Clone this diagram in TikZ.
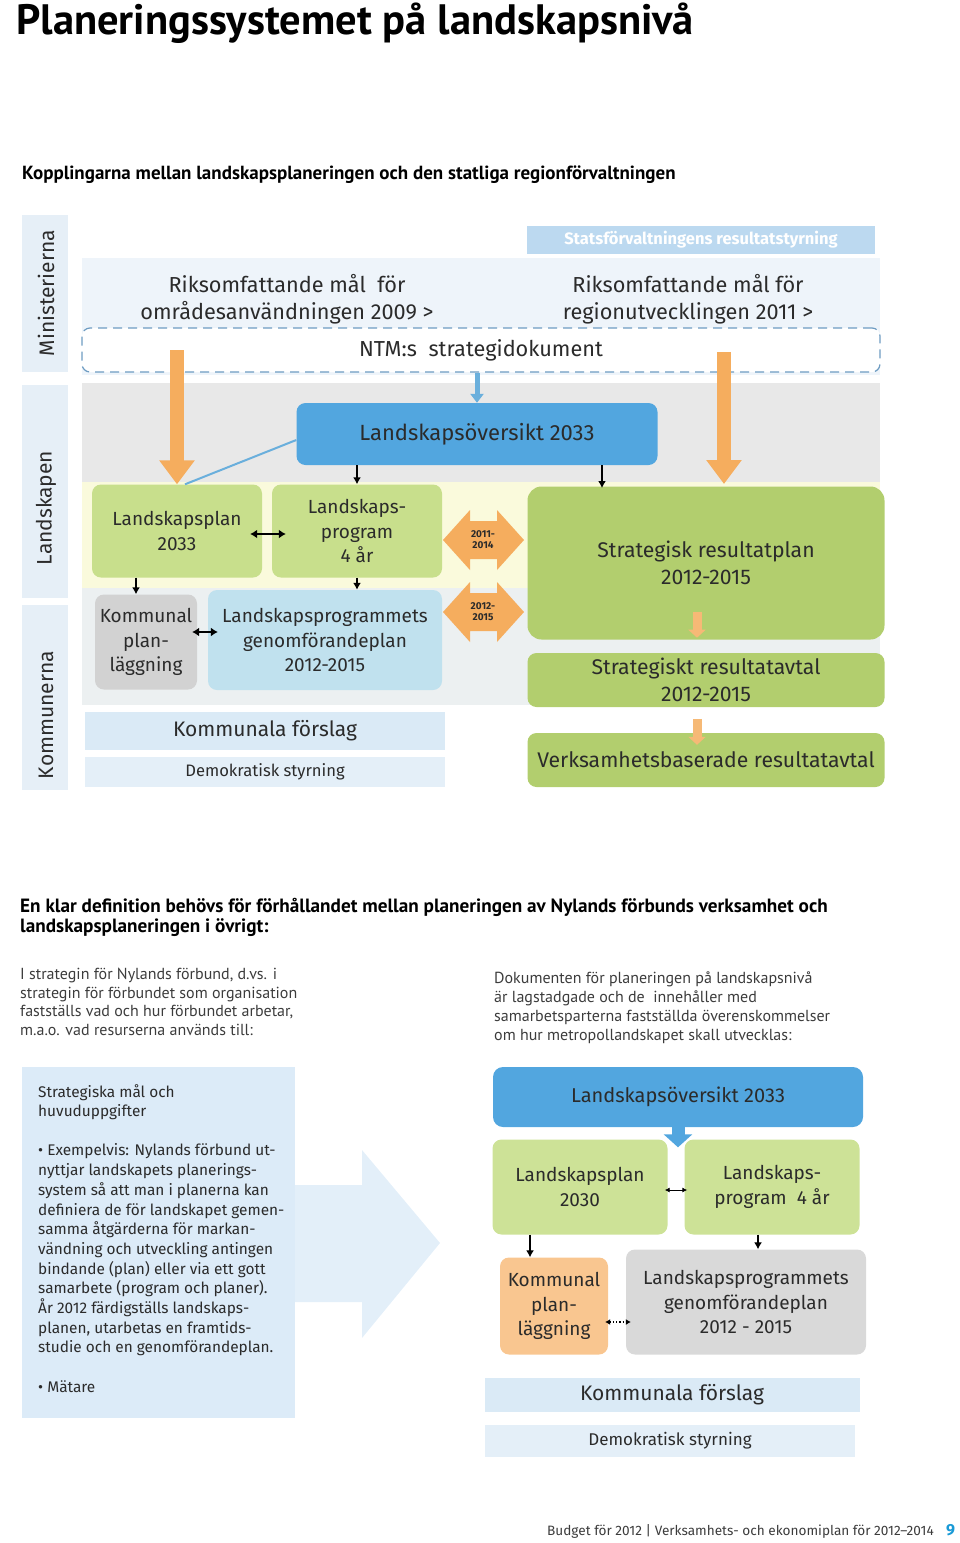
\documentclass[tikz,border=0pt]{standalone}
\usepackage{fontspec}
\setmainfont{Fira Sans}
\newfontfamily\headfont{PT Sans}
\usetikzlibrary{arrows.meta,positioning,calc}

\definecolor{ink}{HTML}{2B2B2B}
\definecolor{inkgrey}{HTML}{3C3C3C}
\definecolor{colband}{HTML}{E6EFF7}
\definecolor{minband}{HTML}{EEF4FA}
\definecolor{statsbar}{HTML}{BCD9F0}
\definecolor{ntmblue}{HTML}{6E9CC2}
\definecolor{greyband}{HTML}{E8E8E8}
\definecolor{yellowband}{HTML}{FAFADC}
\definecolor{lowband}{HTML}{ECF0F1}
\definecolor{kfband}{HTML}{DAEAF6}
\definecolor{dsband}{HTML}{E4EFF8}
\definecolor{lsoblue}{HTML}{52A6DF}
\definecolor{linkblue}{HTML}{6AAFDC}
\definecolor{greenL}{HTML}{C8DF8C}
\definecolor{greenS}{HTML}{B2CE6E}
\definecolor{kommgrey}{HTML}{D2D2D2}
\definecolor{genblue}{HTML}{C0E1EE}
\definecolor{orangeA}{HTML}{F5AD5E}
\definecolor{orangeB}{HTML}{F9C690}
\definecolor{planegrey}{HTML}{D9D9D9}
\definecolor{leftbox}{HTML}{DCEBF8}
\definecolor{bigarrow}{HTML}{E3EFF9}
\definecolor{pageblue}{HTML}{1A9AD6}

\tikzset{
  box/.style={rounded corners=9pt, inner sep=0pt, align=center, text=ink},
  txt/.style={inner sep=0pt, align=center, text=ink},
  blk/.style={line width=1.6pt, -{Latex[length=7pt,width=8pt]}},
  twoway/.style={line width=1.6pt, {Latex[length=7pt,width=9pt]}-{Latex[length=7pt,width=9pt]}},
  fatarrow/.style={line width=14pt, draw=orangeA, -{Triangle[length=24pt,width=34pt]}},
  smallorange/.style={line width=9pt, draw=orangeA!85, -{Triangle[length=8pt,width=17pt]}},
  f21/.style={font=\fontsize{21.7}{27}\selectfont},
  f19/.style={font=\fontsize{19}{24.5}\selectfont},
  f20/.style={font=\fontsize{21.2}{27}\selectfont},
}

\begin{document}
\begin{tikzpicture}[x=1pt,y=-1pt]
\useasboundingbox (0,0) rectangle (960,1543);

% headings
\node[anchor=base west, inner sep=0pt, font=\headfont\bfseries\fontsize{42.5}{44}\selectfont] (title) at (16,34) {Planeringssystemet på landskapsnivå};
\node[anchor=base west, inner sep=0pt, font=\headfont\bfseries\fontsize{19}{22}\selectfont] (sub) at (22,179) {Kopplingarna mellan landskapsplaneringen och den statliga regionförvaltningen};

% bands
\fill[colband] (22,215) rectangle (68,372);
\fill[colband] (22,385) rectangle (68,598);
\fill[colband] (22,605) rectangle (68,790);
\fill[minband] (82,258) rectangle (880,375);
\fill[greyband] (82,383) rectangle (880,482);
\fill[yellowband] (82,482) rectangle (880,588);
\fill[lowband] (82,588) rectangle (880,705);

\node[rotate=90, txt, font=\fontsize{21}{21}\selectfont] (mini) at (46,293) {Ministerierna};
\node[rotate=90, txt, font=\fontsize{21}{21}\selectfont] (lands) at (46,508) {Landskapen};
\node[rotate=90, txt, font=\fontsize{21}{21}\selectfont] (kommun) at (46,715) {Kommunerna};

\node[box, rounded corners=0pt, fill=statsbar, text=white, minimum width=348pt, minimum height=28pt, font=\bfseries\fontsize{16.5}{16.5}\selectfont] (stats) at (701,240) {Statsförvaltningens resultatstyrning};

\node[txt, f21] (omr) at (287,299) {Riksomfattande mål~~för\\områdesanvändningen 2009 >};
\node[txt, f21] (reg) at (688,299) {Riksomfattande mål för\\regionutvecklingen 2011 >};
\node[box, fill=white, draw=ntmblue, line width=1.2pt, dash pattern=on 9pt off 6pt, rounded corners=8pt, minimum width=798pt, minimum height=44pt, f21] (ntm) at (481,350) {NTM:s~~strategidokument};

% boxes
\node[box, fill=lsoblue, minimum width=361pt, minimum height=62pt, font=\fontsize{22}{27}\selectfont] (lso) at (477,434) {Landskapsöversikt 2033};
\node[box, fill=greenL, minimum width=170pt, minimum height=93pt, f19] (lsplan) at (177,531) {Landskapsplan\\2033};
\node[box, fill=greenL, minimum width=170pt, minimum height=93pt, f19] (lsprog) at (357,531) {Landskaps-\\program\\4 år};
\node[box, fill=kommgrey, minimum width=102pt, minimum height=95pt, f19] (komm) at (146,642) {Kommunal\\plan-\\läggning};
\node[box, fill=genblue, minimum width=234pt, minimum height=100pt, f19] (genomf) at (325,640) {Landskapsprogrammets\\genomförandeplan\\2012-2015};
\node[box, fill=greenS, rounded corners=14pt, minimum width=357pt, minimum height=153pt, f20] (srp) at (706,563) {Strategisk resultatplan\\2012-2015};
\node[box, fill=greenS, minimum width=357pt, minimum height=54pt, f20] (srav) at (706,680) {Strategiskt resultatavtal\\2012-2015};
\node[box, fill=greenS, minimum width=357pt, minimum height=54pt, f20] (verk) at (706,760) {Verksamhetsbaserade resultatavtal};
\node[box, rounded corners=0pt, fill=kfband, minimum width=360pt, minimum height=38pt, font=\fontsize{21}{21}\selectfont] (kf) at (265,731) {Kommunala förslag};
\node[box, rounded corners=0pt, fill=dsband, minimum width=360pt, minimum height=30pt, font=\fontsize{16.6}{16.6}\selectfont] (ds) at (265,772) {Demokratisk styrning};

\foreach \cy/\yrs [count=\k] in {540/{2011-\\2014}, 612/{2012-\\2015}}
  {
    \fill[orangeA] (443,\cy) -- (470,\cy-30) -- (470,\cy-19) -- (497,\cy-19) -- (497,\cy-30)
      -- (524,\cy) -- (497,\cy+30) -- (497,\cy+19) -- (470,\cy+19) -- (470,\cy+30) -- cycle;
    \node[txt, font=\bfseries\fontsize{10}{11}\selectfont] (yr\k) at (483,\cy) {\yrs};
  }

% connectors
\coordinate (rtop) at (724,352);
\coordinate (rend) at (724,484);
\coordinate (srptop) at (602,488);
\coordinate (o1) at (697,0);
\draw[fatarrow] (ntm.center -| lsplan.north) -- (lsplan.north);
\draw[fatarrow] (rtop) -- (rend);
\draw[line width=5pt, draw=linkblue, -{Triangle[length=9pt,width=13pt]}] (ntm.south -| lso.north) -- (lso.north);
\draw[line width=2pt, linkblue] ([xshift=8pt]lsplan.north) -- ([yshift=-6pt]lso.west);
\draw[blk] (lso.south -| lsprog.north) -- (lsprog.north);
\draw[blk] (lso.south -| srptop) -- (srptop);
\draw[twoway, shorten <=-12pt, shorten >=-14pt] ([yshift=-3pt]lsplan.east) -- ([yshift=-3pt]lsprog.west);
\draw[blk] ([xshift=-10pt]lsplan.south -| komm.north) -- ([xshift=-10pt]komm.north);
\draw[blk] (lsprog.south) -- (lsprog.south |- genomf.north);
\draw[twoway, line width=1.2pt, shorten <=-5pt, shorten >=-10pt] ([yshift=10pt]komm.east) -- ([yshift=8pt]genomf.west);
\draw[smallorange] ([yshift=28pt]srp.south -| o1) -- ([yshift=2pt]srp.south -| o1);
\draw[smallorange] ([yshift=14pt]verk.north -| o1) -- ([yshift=-12pt]verk.north -| o1);

% lower part
\node[anchor=north west, inner sep=0pt, align=left, font=\headfont\bfseries\fontsize{19.2}{20}\selectfont] (def) at (20,898) {En klar definition behövs för förhållandet mellan planeringen av Nylands förbunds verksamhet och\\landskapsplaneringen i övrigt:};
\node[anchor=north west, inner sep=0pt, align=left, text=inkgrey, font=\headfont\fontsize{16}{18.7}\selectfont] (parl) at (20,968) {I strategin för Nylands förbund, d.vs. i\\strategin för förbundet som organisation\\fastställs vad och hur förbundet arbetar,\\m.a.o. vad resurserna används till:};
\node[anchor=north west, inner sep=0pt, align=left, text=inkgrey, font=\headfont\fontsize{16}{19}\selectfont] (parr) at (494,972) {Dokumenten för planeringen på landskapsnivå\\är lagstadgade och de~~innehåller med\\samarbetsparterna fastställda överenskommelser\\om hur metropollandskapet skall utvecklas:};

\fill[leftbox] (22,1067) rectangle (295,1418);
\fill[bigarrow] (295,1185) -- (362,1185) -- (362,1150) -- (440,1243) -- (362,1338) -- (362,1302) -- (295,1302) -- cycle;
\node[anchor=north west, inner sep=0pt, align=left, text=ink, font=\fontsize{15.4}{19.7}\selectfont] (goals) at (38,1084) {Strategiska mål och\\huvuduppgifter\\[19.5pt]• Exempelvis: Nylands förbund ut-\\nyttjar landskapets planerings-\\system så att man i planerna kan\\definiera de för landskapet gemen-\\samma åtgärderna för markan-\\vändning och utveckling antingen\\bindande (plan) eller via ett gott\\samarbete (program och planer).\\År 2012 färdigställs landskaps-\\planen, utarbetas en framtids-\\studie och en genomförandeplan.\\[19.5pt]• Mätare};

\node[box, fill=lsoblue, rounded corners=10pt, minimum width=370pt, minimum height=60pt, font=\fontsize{20}{20}\selectfont] (lso2) at (678,1097) {Landskapsöversikt 2033};
\node[box, fill=greenL!90, minimum width=175pt, minimum height=95pt, f19] (lsplan2) at (580,1187) {Landskapsplan\\2030};
\node[box, fill=greenL!90, minimum width=175pt, minimum height=95pt, f19] (lsprog2) at (772,1187) {Landskaps-\\program~~4 år};
\node[box, fill=orangeB, minimum width=108pt, minimum height=97pt, f19] (komm2) at (554,1306) {Kommunal\\plan-\\läggning};
\node[box, fill=planegrey, minimum width=240pt, minimum height=105pt, f19] (genomf2) at (746,1302) {Landskapsprogrammets\\genomförandeplan\\2012 - 2015};
\node[box, rounded corners=0pt, fill=kfband, minimum width=375pt, minimum height=34pt, font=\fontsize{21}{21}\selectfont] (kf2) at (672,1395) {Kommunala förslag};
\node[box, rounded corners=0pt, fill=dsband, minimum width=370pt, minimum height=32pt, font=\fontsize{17}{17}\selectfont] (ds2) at (670,1441) {Demokratisk styrning};

\draw[line width=13pt, draw=lsoblue, -{Triangle[length=13pt,width=28pt]}] ([yshift=8pt]lso2.south) -- ([yshift=-8pt]lso2.south |- lsplan2.north);
\draw[twoway, line width=0.9pt, {Latex[length=5pt,width=5pt]}-{Latex[length=5pt,width=5pt]}, shorten <=-3pt, shorten >=-3pt] ([yshift=-3pt]lsplan2.east) -- ([yshift=-3pt]lsprog2.west);
\draw[blk, line width=1.2pt] ([xshift=-50pt]lsplan2.south) -- ([xshift=-24pt]komm2.north);
\draw[blk, line width=1.2pt] ([xshift=-14pt]lsprog2.south) -- ([xshift=12pt]genomf2.north);
\draw[twoway, line width=1.2pt, dotted, {Latex[length=5pt,width=6pt]}-{Latex[length=5pt,width=6pt]}, shorten <=-3pt, shorten >=-5pt] ([yshift=-16pt]komm2.east) -- ([yshift=-20pt]genomf2.west);

% footer
\node[anchor=base east, inner sep=0pt, text=inkgrey, font=\fontsize{13.6}{16}\selectfont] (foot) at (934,1535) {Budget för 2012 | Verksamhets- och ekonomiplan för 2012–2014};
\node[anchor=base west, inner sep=0pt, text=pageblue, font=\bfseries\fontsize{16}{16}\selectfont] (page) at (946,1535) {9};
\end{tikzpicture}
\end{document}
